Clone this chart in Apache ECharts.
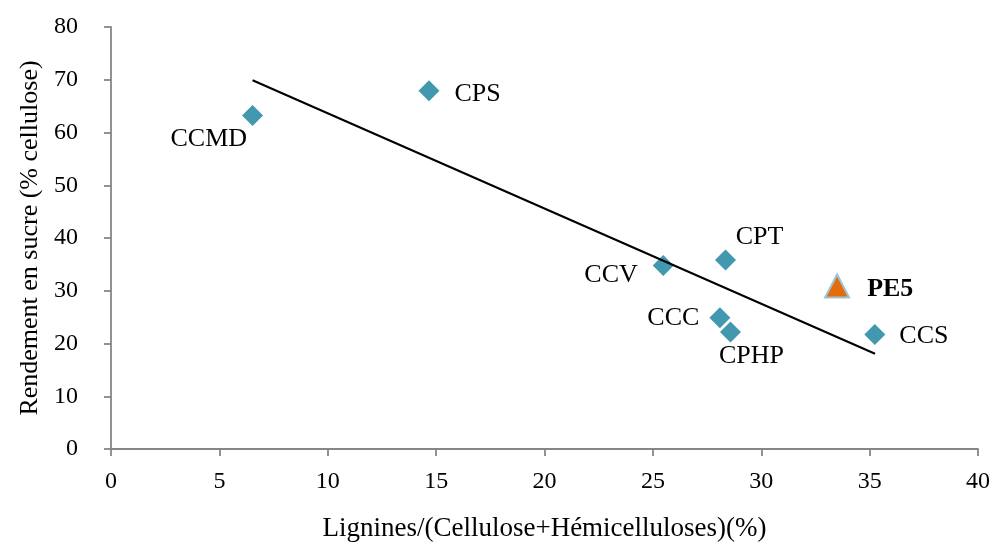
<!DOCTYPE html>
<html><head><meta charset="utf-8">
<script src="https://cdn.jsdelivr.net/npm/echarts@6/dist/echarts.min.js"></script>
<style>html,body{margin:0;padding:0;background:#fff}#c{width:993px;height:547px}</style>
</head><body><div id="c"></div>
<script>
var names = ['CCMD','CPS','CCV','CPT','CCC','CPHP','CCS'];
var xVals = [6.53, 14.67, 25.48, 28.35, 28.09, 28.58, 35.24];
var yVals = [63.2, 67.9, 34.8, 35.85, 24.9, 22.2, 21.7];
var pe5Name = 'PE5';
var pe5X = [33.5];
var pe5Y = [30.9];
var trendX = [6.53, 35.25];
var trendY = [69.9, 18.06];
var xTicks = [0,5,10,15,20,25,30,35,40];
var yTicks = [0,10,20,30,40,50,60,70,80];

var font = 'Liberation Serif, Times New Roman, serif';
var labelCfg = {
  CCMD: {position:'left', distance:0, offset:[5,24]},
  CPS: {position:'right', distance:15, offset:[0,3]},
  CCV: {position:'left', distance:15, offset:[0,10]},
  CPT: {position:'top', distance:0, offset:[34,1]},
  CCC: {position:'left', distance:10, offset:[0,1]},
  CPHP: {position:'bottom', distance:0, offset:[21,1]},
  CCS: {position:'right', distance:14, offset:[0,2]}
};
var pts = names.map(function(n,i){
  var c = labelCfg[n];
  return {value:[xVals[i], yVals[i]], name:n,
    label:{show:true, formatter:n, position:c.position, distance:c.distance, offset:c.offset,
      color:'#000', fontFamily:font, fontSize:26}};
});
var axisLine = {show:true, lineStyle:{color:'#868686', width:1.8}};
var tick = {show:true, length:7, lineStyle:{color:'#868686', width:1.8}};
var chart = echarts.init(document.getElementById('c'), null, {renderer:'canvas'});
chart.setOption({
  animation:false,
  grid:{left:111, right:15, top:27, bottom:96, containLabel:false},
  xAxis:{type:'value', min:xTicks[0], max:xTicks[xTicks.length-1], interval:5,
    axisLine:axisLine, axisTick:tick, splitLine:{show:false},
    axisLabel:{color:'#000', fontFamily:font, fontSize:24, margin:21},
    name:'Lignines/(Cellulose+Hémicelluloses)(%)', nameLocation:'middle', nameGap:66,
    nameTextStyle:{color:'#000', fontFamily:font, fontSize:27}},
  yAxis:{type:'value', min:yTicks[0], max:yTicks[yTicks.length-1], interval:10,
    axisLine:axisLine, axisTick:tick, splitLine:{show:false},
    axisLabel:{color:'#000', fontFamily:font, fontSize:24, margin:33},
    name:'Rendement en sucre (% cellulose)', nameLocation:'middle', nameGap:62,
    nameTextStyle:{color:'#000', fontFamily:font, fontSize:26}},
  series:[
    {type:'line', data:trendX.map(function(x,i){return [x,trendY[i]];}), symbol:'none',
      lineStyle:{color:'#000', width:2}, z:3},
    {type:'scatter', data:pts, symbol:'diamond', symbolSize:21,
      itemStyle:{color:'#4198AF', opacity:1}, z:2},
    {type:'scatter', data:pe5X.map(function(x,i){return {value:[x,pe5Y[i]], name:pe5Name};}),
      symbol:'triangle', symbolSize:[24,23],
      itemStyle:{color:'#E46C0A', borderColor:'#9DC3D8', borderWidth:2, opacity:1},
      label:{show:true, formatter:pe5Name, position:'right', distance:17, offset:[0,3],
        color:'#000', fontFamily:font, fontSize:26, fontWeight:'bold'}, z:4}
  ]
});
</script></body></html>
